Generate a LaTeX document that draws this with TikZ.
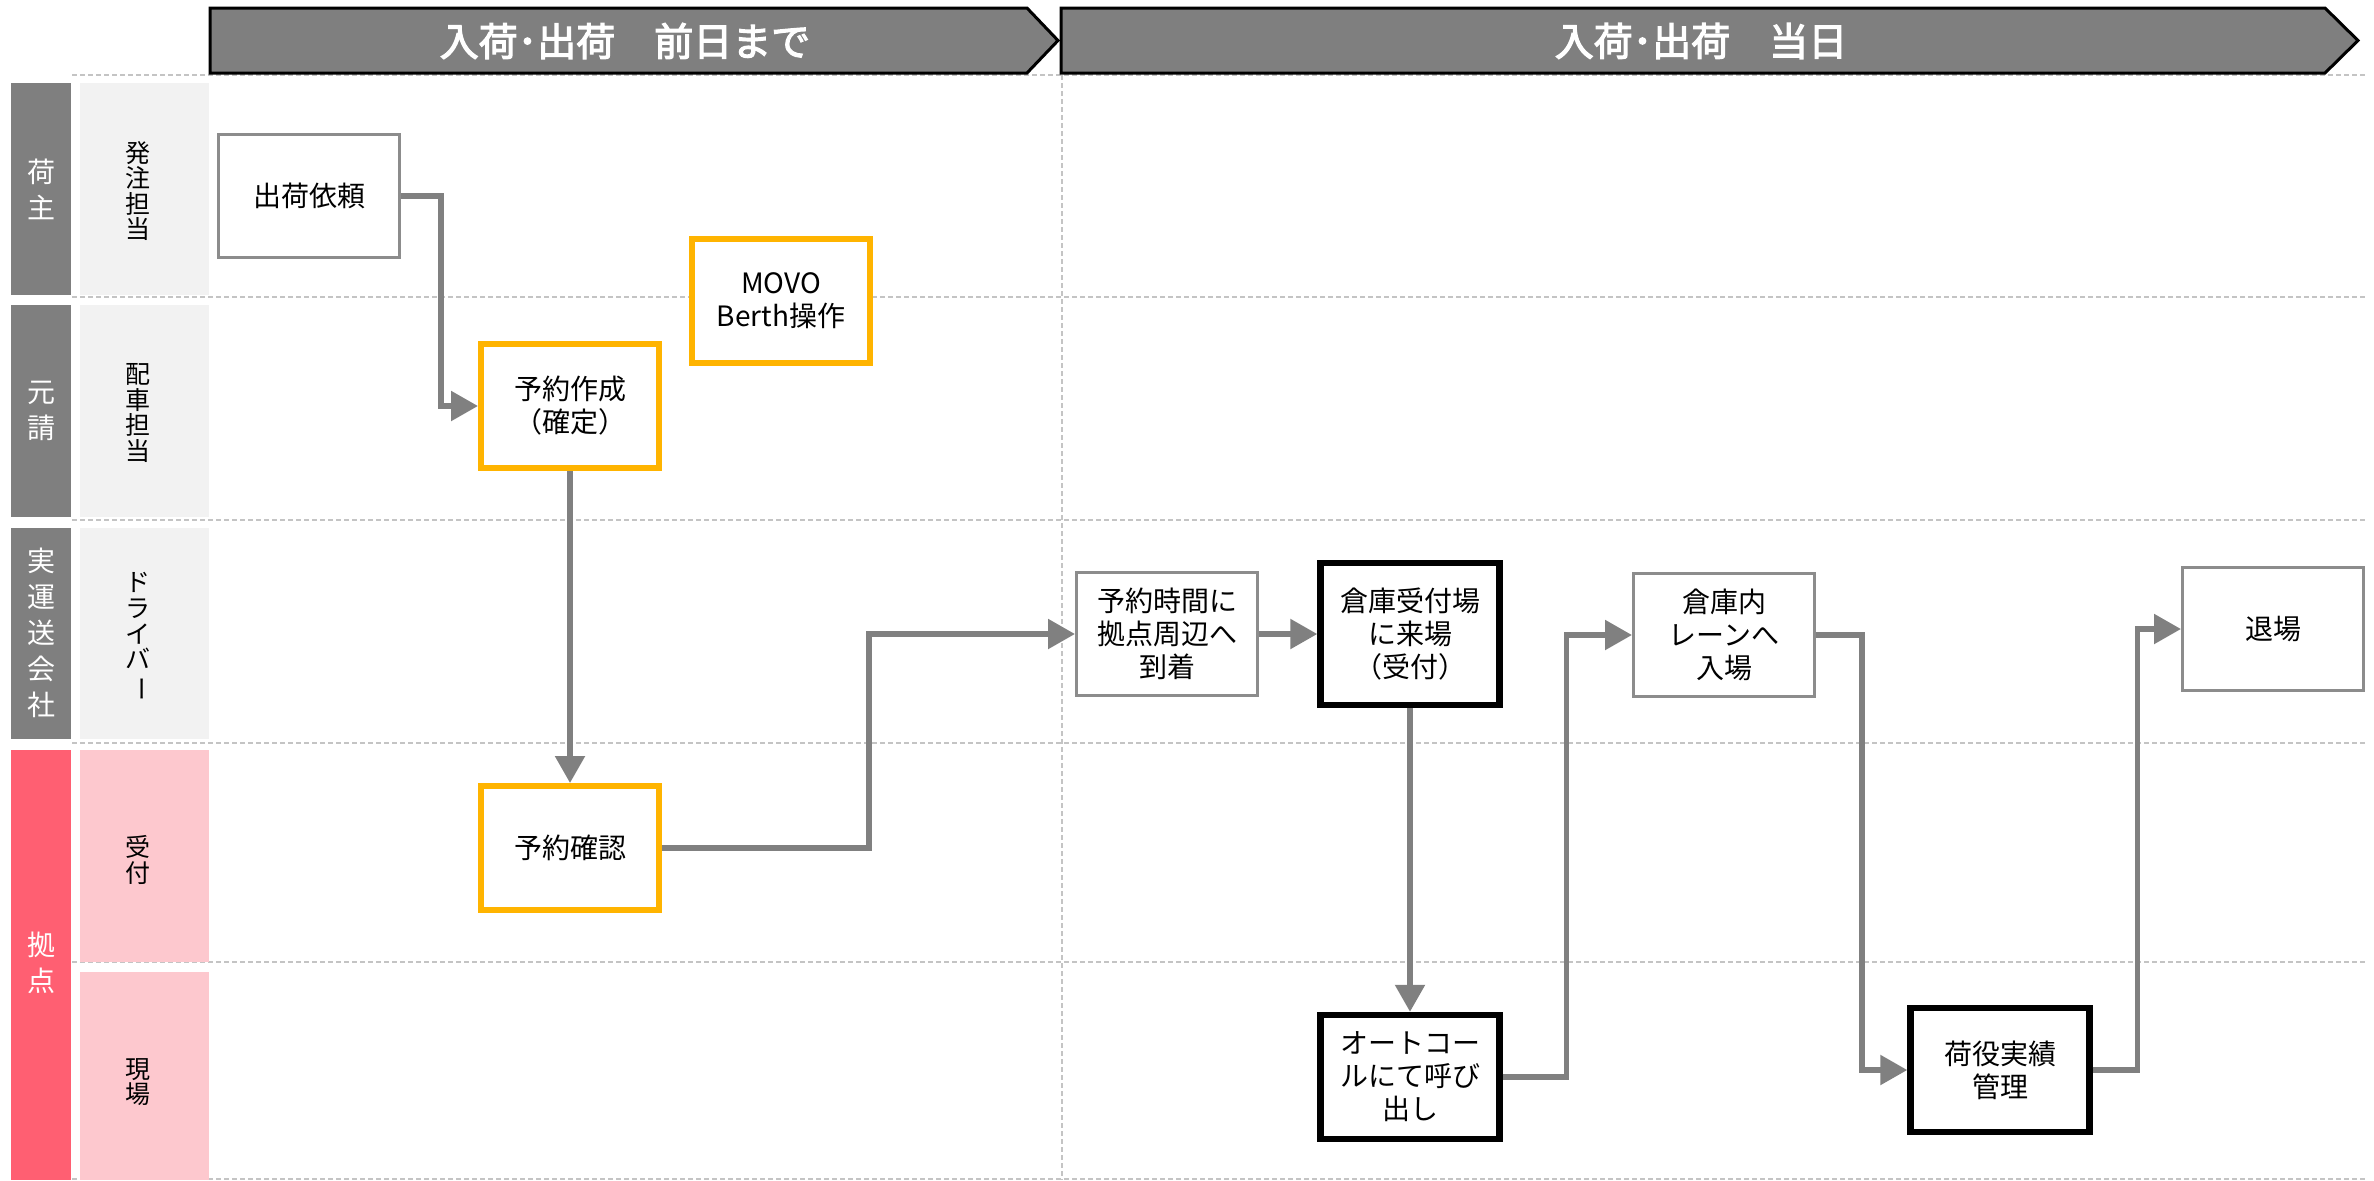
\documentclass[tikz,border=0pt]{standalone}
\usepackage{fontspec}
\setmainfont{Noto Sans CJK JP}
\newfontfamily\headfont[FakeBold=3]{Noto Sans CJK JP}
\usetikzlibrary{arrows.meta}
\definecolor{bargray}{HTML}{7F7F7F}
\definecolor{subgray}{HTML}{F2F2F2}
\definecolor{basered}{HTML}{FF5F72}
\definecolor{basepink}{HTML}{FDC8CE}
\definecolor{dashgray}{HTML}{C4C4C4}
\definecolor{boxgray}{HTML}{8C8C8C}
\definecolor{movo}{HTML}{FFB400}
\definecolor{arrowgray}{HTML}{808080}

\begin{document}
\begin{tikzpicture}[x=0.5pt,y=-0.5pt,
	lanedash/.style={draw=dashgray,line width=0.6pt,dash pattern=on 2.5pt off 1.5pt},
	gbox/.style={draw=boxgray,line width=1.5pt,fill=white,inner sep=0pt,align=center,
		minimum width=90.5pt,minimum height=61.5pt,font=\fontsize{14}{16.5}\selectfont},
	obox/.style={gbox,draw=movo,line width=3pt,minimum width=89pt,minimum height=62pt},
	kbox/.style={gbox,draw=black,line width=3.2pt,minimum width=89.5pt,minimum height=62pt},
	flow/.style={draw=arrowgray,line width=2.7pt,-{Triangle[width=14.5pt,length=13.5pt]}},
	catlabel/.style={text=white,align=center,font=\fontsize{14}{18}\selectfont},
	sublabel/.style={align=center,font=\fontsize{12.5}{12.8}\selectfont},
	phase/.style={text=white,font=\headfont\fontsize{19.5}{22}\selectfont}]
	\useasboundingbox (0,0) rectangle (2374,1180);
	
	\foreach \y in {75,297,520,743,962,1179}
		\draw[lanedash] (72,\y) -- (2366,\y);
	\draw[lanedash] (1062,75) -- (1062,1180);
	
	\filldraw[fill=bargray,draw=black,line width=1.5pt] (210,8) -- (1027,8) -- (1058,40.5) -- (1027,73) -- (210,73) -- cycle;
	\node[phase] (before) at (625,41) {入荷･出荷　前日まで};
	\filldraw[fill=bargray,draw=black,line width=1.5pt] (1061,8) -- (2325,8) -- (2358,40.5) -- (2325,73) -- (1061,73) -- cycle;
	\node[phase] (today) at (1701,41) {入荷･出荷　当日};
	
	\fill[bargray] (11,83) rectangle (71,295);
	\fill[subgray] (80,83) rectangle (209,295);
	\node[catlabel] (shipper) at (41,189) {荷\\主};
	\node[sublabel] (order) at (138,191) {発\\注\\担\\当};
	
	\fill[bargray] (11,305) rectangle (71,517);
	\fill[subgray] (80,305) rectangle (209,517);
	\node[catlabel] (prime) at (41,411) {元\\請};
	\node[sublabel] (dispatch) at (138,413) {配\\車\\担\\当};
	
	\fill[bargray] (11,528) rectangle (71,739);
	\fill[subgray] (80,528) rectangle (209,739);
	\node[catlabel] (carrier) at (41,633) {実\\運\\送\\会\\社};
	\node[sublabel] (driver) at (138,637) {ド\\ラ\\イ\\バ\\\rotatebox[origin=c]{-90}{ー}};
	
	\fill[basered] (11,750) rectangle (71,1180);
	\fill[basepink] (80,750) rectangle (209,962);
	\fill[basepink] (80,972) rectangle (209,1180);
	\node[catlabel] (base) at (41,963) {拠\\点};
	\node[sublabel] (desk) at (138,860) {受\\付};
	\node[sublabel] (floor) at (138,1082) {現\\場};
	
	\node[gbox] (irai) at (309,196) {出荷依頼};
	\node[obox] (movo) at (781,301) {MOVO\\Berth操作};
	\node[obox] (sakusei) at (570,406) {予約作成\\（確定）};
	\node[obox] (kakunin) at (570,848) {予約確認};
	
	\node[gbox] (touchaku) at (1167,634) {予約時間に\\拠点周辺へ\\到着};
	\node[kbox,minimum height=71pt] (raijou) at (1410,634) {倉庫受付場\\に来場\\（受付）};
	\node[kbox] (autocall) at (1410,1077) {オートコー\\ルにて呼び\\出し};
	\node[gbox] (nyujo) at (1724,635) {倉庫内\\レーンへ\\入場};
	\node[kbox] (niyaku) at (2000,1070) {荷役実績\\管理};
	\node[gbox] (taijo) at (2273,629) {退場};
	
	\draw[flow] (irai.east) -- ++(40,0) |- (sakusei.west);
	\draw[flow] (sakusei.south) -- (kakunin.north);
	\draw[flow] (kakunin.east) -- ++(207,0) |- (touchaku.west);
	\draw[flow] (touchaku.east) -- (raijou.west);
	\draw[flow] (raijou.south) -- (autocall.north);
	\draw[flow] (autocall.east) -- ++(64,0) |- (nyujo.west);
	\draw[flow] (nyujo.east) -- ++(46,0) |- (niyaku.west);
	\draw[flow] (niyaku.east) -- ++(45,0) |- (taijo.west);
\end{tikzpicture}
\end{document}
